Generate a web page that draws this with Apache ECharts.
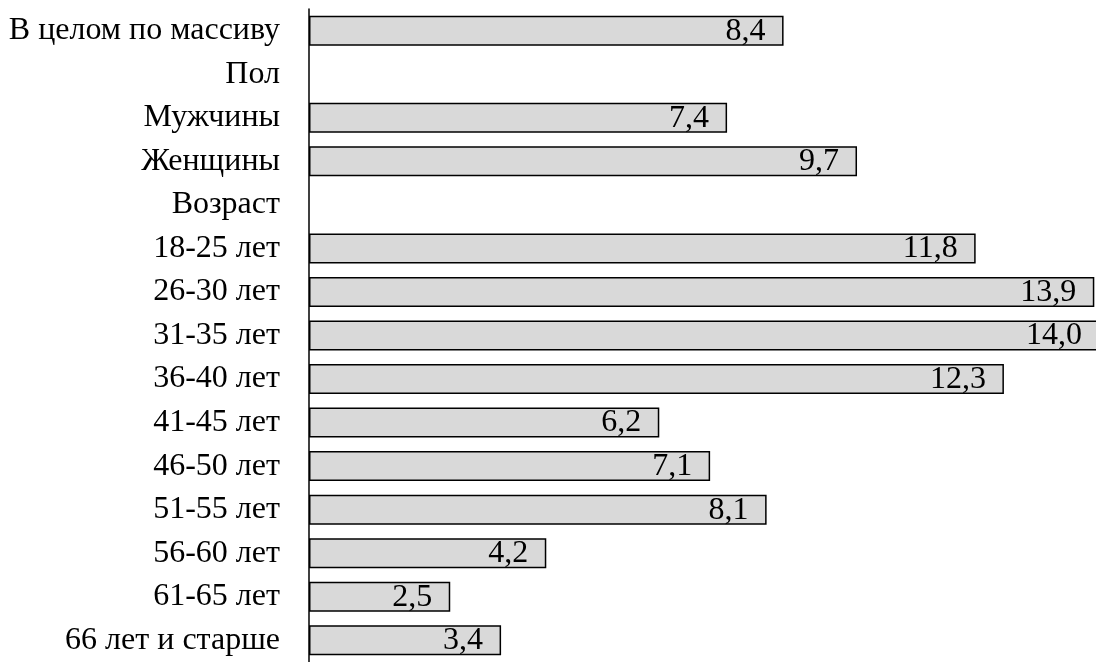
<!DOCTYPE html>
<html>
<head>
<meta charset="utf-8">
<script src="https://cdn.jsdelivr.net/npm/echarts@6/dist/echarts.min.js"></script>
<style>
  html, body { margin: 0; padding: 0; background: #fff; }
  #chart { width: 1096px; height: 662px; }
</style>
</head>
<body>
<div id="chart"></div>
<script>
// Категории сверху вниз; "Пол" и "Возраст" — заголовки групп без значений
const categories = [
  'В целом по массиву', 'Пол', 'Мужчины', 'Женщины', 'Возраст',
  '18-25 лет', '26-30 лет', '31-35 лет', '36-40 лет', '41-45 лет',
  '46-50 лет', '51-55 лет', '56-60 лет', '61-65 лет', '66 лет и старше'
];
const values = [8.4, null, 7.4, 9.7, null, 11.8, 13.9, 14.0, 12.3, 6.2, 7.1, 8.1, 4.2, 2.5, 3.4];

const serif = '"Liberation Serif", "DejaVu Serif", serif';
const chart = echarts.init(document.getElementById('chart'), null, { renderer: 'canvas' });

chart.setOption({
  animation: false,
  backgroundColor: '#fff',
  grid: { left: 309, top: 9, right: 0, bottom: -5, containLabel: false },
  xAxis: {
    type: 'value', min: 0, max: 13.93,
    show: false
  },
  yAxis: {
    type: 'category',
    inverse: true,
    data: categories,
    axisLine: { show: true, lineStyle: { color: '#000', width: 1.5 } },
    axisTick: { show: false },
    axisLabel: {
      color: '#000', fontFamily: serif, fontSize: 32, margin: 29
    }
  },
  series: [{
    type: 'bar',
    data: values,
    barWidth: 30,
    clip: false,
    itemStyle: { color: '#d9d9d9', borderColor: '#000', borderWidth: 1.5 },
    label: {
      show: true,
      position: 'insideRight',
      distance: 18,
      offset: [0, 0.5],
      color: '#000',
      fontFamily: serif,
      fontSize: 32,
      formatter: p => p.value == null ? '' : p.value.toFixed(1).replace('.', ',')
    }
  }]
});
</script>
</body>
</html>
